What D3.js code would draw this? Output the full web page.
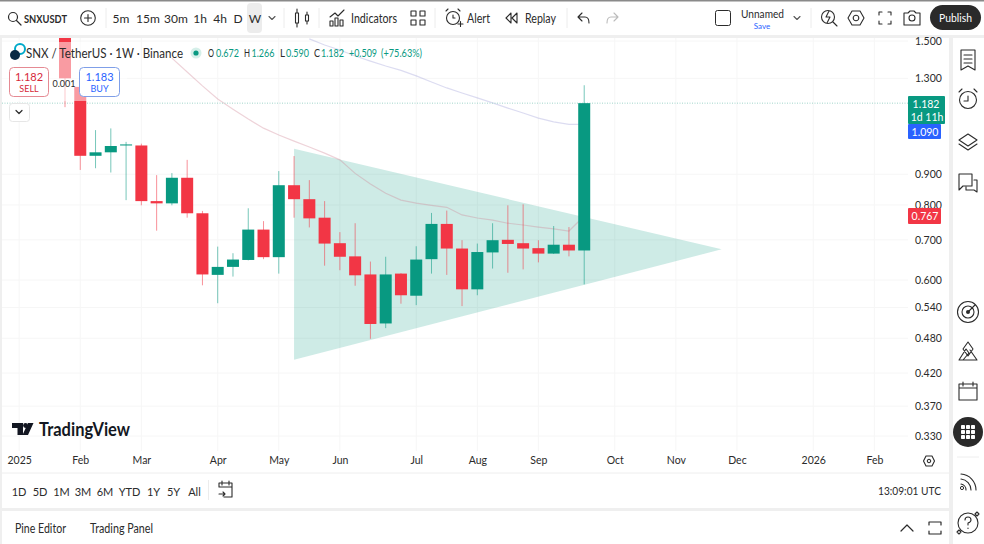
<!DOCTYPE html>
<html lang="en">
<head>
<meta charset="UTF-8">
<title>SNXUSDT weekly</title>
<style>
  * { box-sizing: border-box; }
  html, body { margin: 0; padding: 0; background: #fff; overflow: hidden; }
  svg { display: block; font-family: Lato, sans-serif; }
  .axis path, .axis line { display: none; }
  .axis text { fill: #2b2b2b; font-family: Lato, sans-serif; font-size: 10.5px; }
</style>
</head>
<body>
<svg id="chart" width="984" height="544"></svg>
<script src="https://cdn.jsdelivr.net/npm/d3@7"></script>
<script>
// weekly candles
const weeks = ['2025-01-27','2025-02-03','2025-02-10','2025-02-17','2025-02-24','2025-03-03','2025-03-10',
  '2025-03-17','2025-03-24','2025-03-31','2025-04-07','2025-04-14','2025-04-21','2025-04-28','2025-05-05',
  '2025-05-12','2025-05-19','2025-05-26','2025-06-02','2025-06-09','2025-06-16','2025-06-23','2025-06-30',
  '2025-07-07','2025-07-14','2025-07-21','2025-07-28','2025-08-04','2025-08-11','2025-08-18','2025-08-25',
  '2025-09-01','2025-09-08','2025-09-15','2025-09-22'];
const opens = [1.600,1.258,0.966,0.979,1.005,1.005,0.812,0.805,0.888,0.775,0.612,0.631,0.648,0.728,0.655,
  0.863,0.818,0.762,0.691,0.657,0.613,0.508,0.615,0.565,0.650,0.744,0.677,0.579,0.667,0.700,0.691,0.678,0.664,0.687,0.672];
const highs = [1.700,1.270,1.066,1.073,1.019,1.012,0.897,0.904,0.951,0.782,0.682,0.665,0.790,0.752,0.911,
  0.965,0.880,0.812,0.721,0.746,0.644,0.656,0.616,0.683,0.776,0.783,0.699,0.690,0.746,0.799,0.802,0.699,0.738,0.735,1.266];
const lows = [1.164,0.915,0.921,0.906,0.815,0.799,0.725,0.799,0.762,0.588,0.549,0.608,0.647,0.650,0.615,
  0.762,0.734,0.634,0.623,0.587,0.479,0.499,0.548,0.545,0.615,0.612,0.543,0.566,0.627,0.617,0.625,0.642,0.663,0.657,0.590];
const closes = [1.300,0.966,0.979,1.003,1.009,0.812,0.805,0.888,0.775,0.613,0.631,0.649,0.728,0.655,0.863,
  0.818,0.760,0.690,0.656,0.611,0.507,0.613,0.566,0.649,0.744,0.677,0.579,0.668,0.699,0.689,0.677,0.664,0.687,0.672,1.182];

// moving averages, they start part way through the candles
const pinkStart = 7;
const pinkMa = [1.405,1.332,1.263,1.201,1.155,1.112,1.074,1.046,1.022,0.999,0.976,0.951,0.903,0.867,0.837,
  0.815,0.806,0.799,0.793,0.770,0.761,0.755,0.746,0.741,0.735,0.730,0.724,0.767];
const blueStart = 16;
const blueMa = [1.512,1.477,1.449,1.416,1.389,1.363,1.340,1.312,1.282,1.253,1.229,1.206,1.183,1.160,1.138,
  1.116,1.100,1.090,1.090];

// triangle drawing
const triDates = ['2025-05-12','2025-05-12','2025-11-24'];
const triPrices = [0.992,0.442,0.675];

const priceTicks = [1.5,1.3,0.9,0.8,0.7,0.6,0.54,0.48,0.42,0.37,0.33];
const timeTicks = ['2025-01-06','2025-02-03','2025-03-03','2025-04-07','2025-05-05','2025-06-02','2025-07-07',
  '2025-08-04','2025-09-01','2025-10-06','2025-11-03','2025-12-01','2026-01-05','2026-02-02'];
const timeLabels = ['2025','Feb','Mar','Apr','May','Jun','Jul','Aug','Sep','Oct','Nov','Dec','2026','Feb'];
const lastPrice = 1.182, blueLast = 1.090, pinkLast = 0.767;

const GREEN = '#089981', RED = '#f23645', INK = '#2b2b2b';
const parse = d3.utcParse('%Y-%m-%d');

const x = d3.scaleUtc().domain([parse('2025-01-27'), parse('2025-09-01')]).range([65, 538.4]);
const y = d3.scaleLog().domain([0.33, 1.5]).range([436, 41]);

const svg = d3.select('#chart');
svg.append('rect').attr('width', 984).attr('height', 544).attr('fill', '#fff');

// frame of the app
svg.append('rect').attr('width', 984).attr('height', 1.5).attr('fill', '#8a8a8a');
svg.append('rect').attr('y', 35).attr('width', 984).attr('height', 3).attr('fill', '#efefef');
svg.append('rect').attr('x', 949).attr('y', 35).attr('width', 4).attr('height', 509).attr('fill', '#efefef');
svg.append('rect').attr('y', 35).attr('width', 2).attr('height', 509).attr('fill', '#efefef');
svg.append('rect').attr('y', 508).attr('width', 950).attr('height', 3).attr('fill', '#efefef');
svg.append('line').attr('x1', 2).attr('x2', 949).attr('y1', 473).attr('y2', 473).attr('stroke', '#eeeeee');

svg.append('clipPath').attr('id', 'plot').append('rect').attr('x', 2).attr('y', 38).attr('width', 906).attr('height', 435);
const plot = svg.append('g').attr('clip-path', 'url(#plot)');

// grid
plot.selectAll('.hgrid').data(priceTicks).join('line').attr('class', 'hgrid')
  .attr('x1', 2).attr('x2', 908).attr('y1', d => y(d)).attr('y2', d => y(d)).attr('stroke', '#f6f6f6');
plot.selectAll('.vgrid').data(timeTicks).join('line').attr('class', 'vgrid')
  .attr('x1', d => x(parse(d))).attr('x2', d => x(parse(d))).attr('y1', 38).attr('y2', 451).attr('stroke', '#f6f6f6');

// triangle
const triPts = triDates.map((d, i) => [x(parse(d)), y(triPrices[i])]);
plot.append('path').attr('d', d3.line().curve(d3.curveLinearClosed)(triPts))
  .attr('fill', 'rgba(8,153,129,0.2)').attr('stroke', 'none');

// moving averages
const maLine = d3.line().x(d => x(parse(d.date))).y(d => y(d.value));
plot.append('path').datum(blueMa.map((v, i) => ({date: weeks[i + blueStart], value: v})))
  .attr('d', maLine).attr('fill', 'none').attr('stroke', 'rgba(140,140,210,0.3)').attr('stroke-width', 1.2);
plot.append('path').datum(pinkMa.map((v, i) => ({date: weeks[i + pinkStart], value: v})))
  .attr('d', maLine).attr('fill', 'none').attr('stroke', 'rgba(205,130,145,0.35)').attr('stroke-width', 1.2);

// last price line
plot.append('line').attr('x1', 2).attr('x2', 908).attr('y1', y(lastPrice)).attr('y2', y(lastPrice))
  .attr('stroke', '#9fd4c9').attr('stroke-dasharray', '1 1.5');

// candles
const candles = weeks.map((d, i) => ({date: parse(d), o: opens[i], h: highs[i], l: lows[i], c: closes[i]}));
const bodyW = 12;
plot.selectAll('.wick').data(candles).join('line').attr('class', 'wick')
  .attr('x1', d => x(d.date)).attr('x2', d => x(d.date))
  .attr('y1', d => y(d.h)).attr('y2', d => y(d.l))
  .attr('stroke', d => d.c >= d.o ? GREEN : RED).attr('stroke-opacity', 0.55);
plot.selectAll('.body').data(candles).join('rect').attr('class', 'body')
  .attr('x', d => x(d.date) - bodyW / 2).attr('width', bodyW)
  .attr('y', d => y(Math.max(d.o, d.c)))
  .attr('height', d => Math.max(1, Math.abs(y(d.o) - y(d.c))))
  .attr('fill', d => d.c >= d.o ? GREEN : RED);

// the legend block washes out what lies under it
svg.append('rect').attr('x', 2).attr('y', 42).attr('width', 125).attr('height', 59).attr('fill', '#fff').attr('opacity', 0.5);

// axes
const yAxis = d3.axisRight(y).tickValues(priceTicks).tickFormat(d3.format('.3f')).tickSize(0).tickPadding(0);
svg.append('g').attr('class', 'axis').attr('transform', 'translate(915,0)').call(yAxis);
const xAxis = d3.axisBottom(x).tickValues(timeTicks.map(parse)).tickFormat((d, i) => timeLabels[i]).tickSize(0).tickPadding(0);
svg.append('g').attr('class', 'axis').attr('transform', 'translate(0,457)').call(xAxis);

function txt(t, px, py, size, color, anchor, weight) {
  return svg.append('text').attr('x', px).attr('y', py).attr('font-size', size).attr('fill', color || INK)
    .attr('text-anchor', anchor || 'start').attr('dominant-baseline', 'central')
    .attr('font-weight', weight || 400).text(t);
}
// the reference font runs narrow, so squeeze the long labels to their measured width
function fit(sel, w) {
  return sel.attr('textLength', w).attr('lengthAdjust', 'spacingAndGlyphs');
}

// price tags
function tag(top, w, h, color) {
  svg.append('rect').attr('x', 908).attr('y', top).attr('width', w).attr('height', h).attr('fill', color).attr('rx', 1);
}
tag(96, 37, 28, GREEN);
tag(124, 33, 15, '#2962ff');
tag(y(pinkLast) - 8, 33, 16, RED);
txt(d3.format('.3f')(lastPrice), 926, 104, 10.5, '#fff', 'middle');
txt('1d 11h', 927, 117, 10.5, '#fff', 'middle');
txt(d3.format('.3f')(blueLast), 925, 131.5, 10.5, '#fff', 'middle');
txt(d3.format('.3f')(pinkLast), 925, y(pinkLast), 10.5, '#fff', 'middle');

// legend
fit(txt('SNX / TetherUS · 1W · Binance', 26, 53, 13), 157);
svg.append('circle').attr('cx', 196).attr('cy', 53).attr('r', 5.5).attr('fill', '#d5efe9');
svg.append('circle').attr('cx', 196).attr('cy', 53).attr('r', 2.6).attr('fill', GREEN);
svg.append('circle').attr('cx', 20).attr('cy', 49).attr('r', 5).attr('fill', 'none').attr('stroke', '#00a9c9').attr('stroke-width', 2);
svg.append('circle').attr('cx', 15).attr('cy', 55).attr('r', 5).attr('fill', '#0b2a44');
const ohlcParts = [['O', 208, INK, 6], ['0.672', 216, GREEN, 23], ['H', 244, INK, 6], ['1.266', 251.5, GREEN, 23], ['L', 280, INK, 5],
  ['0.590', 286, GREEN, 23], ['C', 314, INK, 6], ['1.182', 321, GREEN, 23], ['+0.509', 349, GREEN, 28], ['(+75.63%)', 381, GREEN, 41]];
ohlcParts.forEach(p => fit(txt(p[0], p[1], 53, 10.5, p[2]), p[3]));

// sell / buy boxes
svg.append('text').attr('x', 64).attr('y', 83).attr('font-size', 9).attr('fill', INK).attr('text-anchor', 'middle')
  .attr('dominant-baseline', 'central').text('0.001');
svg.append('rect').attr('x', 9.5).attr('y', 67.5).attr('width', 39).attr('height', 29).attr('rx', 4).attr('fill', '#fff').attr('stroke', '#e58a93');
svg.append('rect').attr('x', 79.5).attr('y', 67.5).attr('width', 40).attr('height', 29).attr('rx', 4).attr('fill', '#fff').attr('stroke', '#7f9fe8');
txt('1.182', 29, 76.5, 11, '#d6293a', 'middle');
txt('SELL', 29, 88, 9, '#d6293a', 'middle');
txt('1.183', 99.5, 76.5, 11, '#2962ff', 'middle');
txt('BUY', 99.5, 88, 9, '#2962ff', 'middle');
svg.append('rect').attr('x', 9.5).attr('y', 103.5).attr('width', 20).attr('height', 18).attr('rx', 3).attr('fill', '#fff').attr('stroke', '#e6e6e6');

// icons, all thin strokes
function icon(cx, cy, d, color, width) {
  return svg.append('path').attr('transform', `translate(${cx},${cy})`).attr('d', d).attr('fill', 'none')
    .attr('stroke', color || INK).attr('stroke-width', width || 1.1).attr('stroke-linejoin', 'round').attr('stroke-linecap', 'round');
}
const ring = r => `M${-r},0a${r},${r} 0 1,0 ${2 * r},0a${r},${r} 0 1,0 ${-2 * r},0`;
const chevronDown = 'M-3,-1.5L0,1.5L3,-1.5';
icon(19, 112, chevronDown, INK, 1.2);

// toolbar
icon(13, 17, ring(4.5) + 'M3.5,3.5L8,8', INK, 1.2);
fit(txt('SNXUSDT', 24, 18, 12, INK, 'start', 700), 43);
icon(88, 18, ring(7.3) + 'M-3.5,0H3.5M0,-3.5V3.5');
[['5m', 121], ['15m', 148], ['30m', 176], ['1h', 200], ['4h', 220], ['D', 238]].forEach(t => txt(t[0], t[1], 18, 12, INK, 'middle'));
svg.append('rect').attr('x', 247).attr('y', 3).attr('width', 15).attr('height', 30).attr('rx', 4).attr('fill', '#ececec');
txt('W', 255, 18, 12, INK, 'middle');
icon(272, 18, chevronDown, '#555');
[106, 284, 319, 435, 567, 811].forEach(sx => svg.append('line').attr('x1', sx).attr('x2', sx).attr('y1', 8).attr('y2', 28).attr('stroke', '#ececec'));
icon(302, 18, 'M-6.5,-5h3v10h-3zM-5,-9V-5M-5,5V9M3.5,-3h3v6h-3zM5,-6V-3M5,3V6');
icon(337, 18, 'M-7,8V3h3v5zM-2,8V0h3v8zM3,8V2h3v6zM-7,-1L-2,-5L1,-2L7,-8', INK, 1.1);
fit(txt('Indicators', 351, 18, 12.5), 46);
icon(418, 18, 'M-7,-7h5v5h-5zM2,-7h5v5h-5zM-7,2h5v5h-5zM2,2h5v5h-5z');
icon(453, 18, ring(6.5) + 'M0,-3V0H2M-7,-7L-5,-9M7,-7L5,-9M5,6H10M7.5,3.5V8.5');
fit(txt('Alert', 467, 18, 12.5), 23);
icon(512, 18, 'M-1,-5L-6,0L-1,5zM5,-5L0,0L5,5z');
fit(txt('Replay', 525, 18, 12.5), 31);
icon(584, 18, 'M-2,-5L-6,-1L-2,3M-6,-1H1Q5,-1 5,5');
icon(612, 18, 'M2,-5L6,-1L2,3M6,-1H-1Q-5,-1 -5,5', '#bbbbbb');
svg.append('rect').attr('x', 715.5).attr('y', 10.5).attr('width', 15).attr('height', 15).attr('rx', 2).attr('fill', 'none').attr('stroke', INK);
fit(txt('Unnamed', 741, 13.5, 12), 43);
txt('Save', 762, 25.5, 8, '#2962ff', 'middle');
icon(797, 18, chevronDown, '#555');
icon(828, 17, ring(6.5) + 'M5,5L9,9M1,-6L-2,0H2L-1,6', INK);
icon(856, 18, 'M-4,-7H4L8,0L4,7H-4L-8,0Z' + ring(2.8));
icon(885, 18, 'M-6,-3V-6H-3M3,-6H6V-3M6,3V6H3M-3,6H-6V3');
icon(912, 18, 'M-8,-5H-4L-2,-7H2L4,-5H8V7H-8Z' + ring(3));
svg.append('rect').attr('x', 930).attr('y', 5).attr('width', 51).attr('height', 25).attr('rx', 12.5).attr('fill', '#2a2a2a');
fit(txt('Publish', 955.5, 17.5, 12, '#fff', 'middle'), 33);

// right sidebar
icon(968, 60, 'M-7,-10H7V10L0,6L-7,10ZM-4,-5H4M-4,-1H4M-4,3H4', INK, 1.1);
icon(968, 100, ring(8.5) + 'M0,-4V1H-4M-9,-8L-6,-11M9,-8L6,-11');
icon(968, 142, 'M0,-8L9,-2L0,4L-9,-2ZM-9,2L0,8L9,2');
icon(968, 183, 'M-9,-9H4V3H-5L-9,7ZM6,-3H9V9L6,7H-2V4');
icon(968, 312, ring(10.5) + ring(6) + 'M0,0L7,-7');
svg.append('circle').attr('cx', 968).attr('cy', 312).attr('r', 2).attr('fill', INK);
icon(968, 351, 'M-9,9L-2,-2L1,2L-5,9M9,9H-9M9,9L2,-1M-5,-2L0,-9L5,-2L0,5Z');
icon(968, 391, 'M-9,-7H9V9H-9ZM-9,-3H9M-5,-9V-5M5,-9V-5');
svg.append('circle').attr('cx', 968).attr('cy', 432).attr('r', 15).attr('fill', '#2a2a2a');
svg.append('g').selectAll('rect').data(d3.cross([-7, -2, 3], [-7, -2, 3])).join('rect')
  .attr('x', d => 968 + d[0]).attr('y', d => 432 + d[1]).attr('width', 4).attr('height', 4).attr('rx', 0.8).attr('fill', '#fff');
svg.append('line').attr('x1', 957).attr('x2', 979).attr('y1', 457).attr('y2', 457).attr('stroke', '#eeeeee');
icon(968, 483, 'M-7,-9A16,16 0 0,1 8,7M-7,-4A11,11 0 0,1 3,7M-7,1A6,6 0 0,1 -2,7');
svg.append('circle').attr('cx', 962).attr('cy', 488).attr('r', 1.6).attr('fill', 'none').attr('stroke', INK);
icon(968, 523, ring(10) + 'M-3,-3Q-3,-6 0,-6Q3,-6 3,-3Q3,-1 0,0V2M0,5V5.5M9,-11L11,-9L9,-7L7,-9ZM-9,7L-7,9L-9,11L-11,9Z');

// time axis gear and range bar
icon(929, 461, 'M-3,-5H3L5.5,0L3,5H-3L-5.5,0Z' + ring(1.7));
[['1D', 19], ['5D', 40], ['1M', 61.5], ['3M', 83], ['6M', 105], ['YTD', 129.5], ['1Y', 153.5], ['5Y', 173.5], ['All', 194.5]]
  .forEach(t => txt(t[0], t[1], 491, 11, INK, 'middle'));
svg.append('line').attr('x1', 208.5).attr('x2', 208.5).attr('y1', 480).attr('y2', 500).attr('stroke', '#ececec');
icon(226, 490, 'M-7,-3V-7H6V7H-2M-7,-3H6M-4,-9V-5M3,-9V-5M-7,4H-1M-3,2L-1,4L-3,6');
fit(txt('13:09:01 UTC', 878, 490, 12), 63);

// bottom panel
fit(txt('Pine Editor', 15, 528, 12.5), 51);
fit(txt('Trading Panel', 90, 528, 12.5), 63);
icon(907, 528, 'M-6,3L0,-3L6,3', INK, 1.2);
icon(935, 528, 'M-6,-3V-6H6V-3M-6,3V6H6V3', INK, 1.2);

// TradingView mark
svg.append('path').attr('fill', '#131722').attr('d', 'M12,423H23V435H17.5V428H12ZM28,423H33.5L28,435H22.5Z');
svg.append('circle').attr('cx', 25.5).attr('cy', 425.5).attr('r', 2.4).attr('fill', '#131722');
fit(txt('TradingView', 39, 429, 18, '#131722', 'start', 700), 91);
</script>
</body>
</html>
